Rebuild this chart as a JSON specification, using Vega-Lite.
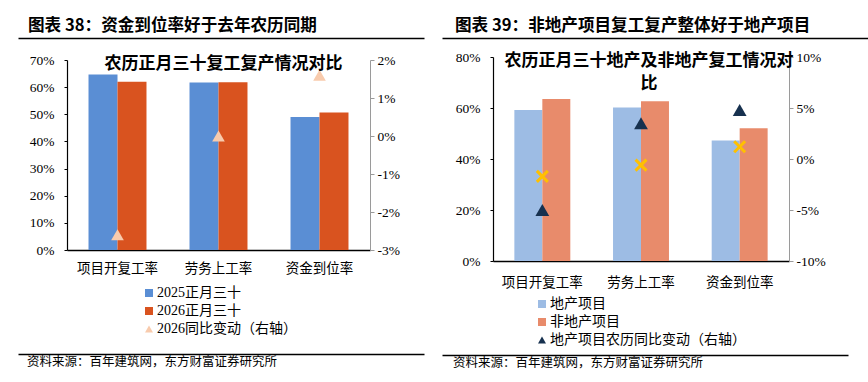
{
  "$schema": "https://vega.github.io/schema/vega-lite/v6.json",
  "background": "white",
  "padding": {"left": 18, "top": 18, "right": 0, "bottom": 0},
  "spacing": 18,
  "resolve": {"scale": {"x": "independent", "xOffset": "independent", "y": "independent", "color": "independent", "shape": "independent"}, "legend": {"color": "independent", "shape": "independent"}},
  "config": {
    "view": {"stroke": null},
    "axis": {"labelColor": "black", "grid": false, "title": null},
    "title": {"font": "Noto Sans CJK SC", "color": "black"}
  },
  "hconcat": [
    {
      "spacing": 0,
      "resolve": {"scale": {"x": "independent", "y": "independent"}},
      "vconcat": [
        {
          "width": 357, "height": 15,
          "data": {"values": [{"v": 0}]},
          "mark": {"type": "point", "opacity": 0},
          "encoding": {"x": {"field": "v", "type": "quantitative", "scale": {"domain": [0, 1], "range": [0, 406]}, "axis": {"orient": "top", "position": -49, "labels": false, "ticks": false, "domainColor": "black", "domainWidth": 1.5}}},
          "title": {"text": "图表 38：资金到位率好于去年农历同期", "anchor": "start", "frame": "group", "dx": -39, "fontSize": 16.6, "fontWeight": "bold", "offset": 3}
        },
        {
          "width": 303, "height": 190,
          "title": {"text": "农历正月三十复工复产情况对比", "anchor": "middle", "dx": 5, "fontSize": 17, "fontWeight": "bold", "offset": -20},
          "resolve": {"scale": {"y": "independent"}},
          "layer": [
            {
              "data": {"values": [
                {"cat": "项目开复工率", "series": "2025正月三十", "value": 0.647},
                {"cat": "项目开复工率", "series": "2026正月三十", "value": 0.620},
                {"cat": "劳务上工率", "series": "2025正月三十", "value": 0.617},
                {"cat": "劳务上工率", "series": "2026正月三十", "value": 0.618},
                {"cat": "资金到位率", "series": "2025正月三十", "value": 0.490},
                {"cat": "资金到位率", "series": "2026正月三十", "value": 0.507}
              ]},
              "mark": {"type": "bar"},
              "encoding": {
                "x": {"field": "cat", "type": "nominal", "sort": ["项目开复工率", "劳务上工率", "资金到位率"], "scale": {"paddingInner": 0.426, "paddingOuter": 0.213},
                  "axis": {"labelAngle": 0, "ticks": false, "domainColor": "black", "domainWidth": 1.5, "labelFont": "Noto Sans CJK SC", "labelFontSize": 13.5, "labelPadding": 11}},
                "xOffset": {"field": "series", "type": "nominal", "sort": ["2025正月三十", "2026正月三十"]},
                "y": {"field": "value", "type": "quantitative", "scale": {"domain": [0, 0.7]},
                  "axis": {"values": [0, 0.1, 0.2, 0.3, 0.4, 0.5, 0.6, 0.7], "format": ".0%", "domainColor": "black", "domainWidth": 1.2, "tickColor": "black", "tickSize": 3, "labelPadding": 10, "labelFont": "Liberation Serif", "labelFontSize": 13.5, "minExtent": 49}},
                "color": {"field": "series", "type": "nominal",
                  "scale": {"domain": ["2025正月三十", "2026正月三十", "2026同比变动（右轴）"], "range": ["#5A8ED4", "#D9531F", "#F8CBAD"]},
                  "legend": {"orient": "none", "legendX": 75, "legendY": 248, "title": null, "labelFont": "Liberation Serif, Noto Sans CJK SC", "labelFontSize": 14, "symbolSize": 64, "rowPadding": 4, "labelOffset": 1, "labelColor": "black", "labelLimit": 300}}
              }
            },
            {
              "data": {"values": [
                {"cat": "项目开复工率", "series": "2026同比变动（右轴）", "change": -0.026},
                {"cat": "劳务上工率", "series": "2026同比变动（右轴）", "change": 0.0},
                {"cat": "资金到位率", "series": "2026同比变动（右轴）", "change": 0.016}
              ]},
              "mark": {"type": "point", "filled": true, "opacity": 1, "size": 160},
              "encoding": {
                "x": {"field": "cat", "type": "nominal", "sort": ["项目开复工率", "劳务上工率", "资金到位率"]},
                "y": {"field": "change", "type": "quantitative", "scale": {"domain": [-0.03, 0.02]},
                  "axis": {"orient": "right", "values": [-0.03, -0.02, -0.01, 0, 0.01, 0.02], "labelExpr": "replace(format(datum.value, '.0%'), '\u2212', '-')", "domainColor": "#9a9a9a", "tickColor": "#9a9a9a", "tickSize": 4, "labelPadding": 3, "labelFont": "Liberation Serif", "labelFontSize": 13.5}},
                "color": {"field": "series", "type": "nominal",
                  "scale": {"domain": ["2025正月三十", "2026正月三十", "2026同比变动（右轴）"], "range": ["#5A8ED4", "#D9531F", "#F8CBAD"]},
                  "legend": {"orient": "none", "legendX": 75, "legendY": 248, "title": null, "labelFont": "Liberation Serif, Noto Sans CJK SC", "labelFontSize": 14, "symbolSize": 64, "rowPadding": 4, "labelOffset": 1, "labelColor": "black", "labelLimit": 300}},
                "shape": {"field": "series", "type": "nominal",
                  "scale": {"domain": ["2025正月三十", "2026正月三十", "2026同比变动（右轴）"], "range": ["square", "square", "triangle-up"]},
                  "legend": {"orient": "none", "legendX": 75, "legendY": 248, "title": null, "labelFont": "Liberation Serif, Noto Sans CJK SC", "labelFontSize": 14, "symbolSize": 64, "rowPadding": 4, "labelOffset": 1, "labelColor": "black", "labelLimit": 300}}
              }
            }
          ]
        },
        {
          "width": 357, "height": 79,
          "data": {"values": [{"v": 0}]},
          "mark": {"type": "point", "opacity": 0},
          "encoding": {"x": {"field": "v", "type": "quantitative", "scale": {"domain": [0, 1], "range": [0, 406]}, "axis": {"orient": "bottom", "position": -49, "labels": false, "ticks": false, "domainColor": "black", "domainWidth": 1.5}}},
          "title": {"text": "资料来源：百年建筑网，东方财富证券研究所", "orient": "bottom", "anchor": "start", "frame": "group", "dx": -40, "fontSize": 12.5, "fontWeight": "normal", "offset": 2}
        }
      ]
    },
    {
      "spacing": 0,
      "resolve": {"scale": {"x": "independent", "y": "independent"}},
      "vconcat": [
        {
          "width": 375, "height": 12,
          "data": {"values": [{"v": 0}]},
          "mark": {"type": "point", "opacity": 0},
          "encoding": {"x": {"field": "v", "type": "quantitative", "scale": {"domain": [0, 1], "range": [0, 426]}, "axis": {"orient": "top", "position": -51, "labels": false, "ticks": false, "domainColor": "black", "domainWidth": 1.5}}},
          "title": {"text": "图表 39：非地产项目复工复产整体好于地产项目", "anchor": "start", "frame": "group", "dx": -38, "fontSize": 16.6, "fontWeight": "bold", "offset": 3}
        },
        {
          "width": 296, "height": 204,
          "title": {"text": ["农历正月三十地产及非地产复工情况对", "比"], "anchor": "middle", "dx": 8, "fontSize": 17, "fontWeight": "bold", "offset": -43, "lineHeight": 23},
          "resolve": {"scale": {"y": "independent"}},
          "layer": [
            {
              "data": {"values": [
                {"cat": "项目开复工率", "series": "地产项目", "value": 0.592},
                {"cat": "项目开复工率", "series": "非地产项目", "value": 0.635},
                {"cat": "劳务上工率", "series": "地产项目", "value": 0.602},
                {"cat": "劳务上工率", "series": "非地产项目", "value": 0.626},
                {"cat": "资金到位率", "series": "地产项目", "value": 0.473},
                {"cat": "资金到位率", "series": "非地产项目", "value": 0.521}
              ]},
              "mark": {"type": "bar"},
              "encoding": {
                "x": {"field": "cat", "type": "nominal", "sort": ["项目开复工率", "劳务上工率", "资金到位率"], "scale": {"paddingInner": 0.433, "paddingOuter": 0.2165},
                  "axis": {"labelAngle": 0, "ticks": false, "domainColor": "black", "domainWidth": 1.5, "labelFont": "Noto Sans CJK SC", "labelFontSize": 13.5, "labelPadding": 14}},
                "xOffset": {"field": "series", "type": "nominal", "sort": ["地产项目", "非地产项目"]},
                "y": {"field": "value", "type": "quantitative", "scale": {"domain": [0, 0.8]},
                  "axis": {"values": [0, 0.2, 0.4, 0.6, 0.8], "format": ".0%", "domainColor": "black", "domainWidth": 1.2, "tickColor": "black", "tickSize": 3, "labelPadding": 10, "labelFont": "Liberation Serif", "labelFontSize": 13.5, "minExtent": 51}},
                "color": {"field": "series", "type": "nominal",
                  "scale": {"domain": ["地产项目", "非地产项目", "地产项目农历同比变动（右轴）"], "range": ["#9DBCE4", "#E88B6B", "#17314F"]},
                  "legend": {"orient": "none", "legendX": 42, "legendY": 259, "title": null, "labelFont": "Noto Sans CJK SC", "labelFontSize": 14, "symbolSize": 64, "rowPadding": 4, "labelOffset": 1, "labelColor": "black", "labelLimit": 300}}
              }
            },
            {
              "data": {"values": [
                {"cat": "项目开复工率", "series": "地产项目农历同比变动（右轴）", "change": -0.05},
                {"cat": "劳务上工率", "series": "地产项目农历同比变动（右轴）", "change": 0.035},
                {"cat": "资金到位率", "series": "地产项目农历同比变动（右轴）", "change": 0.048}
              ]},
              "mark": {"type": "point", "filled": true, "opacity": 1, "size": 190},
              "encoding": {
                "x": {"field": "cat", "type": "nominal", "sort": ["项目开复工率", "劳务上工率", "资金到位率"]},
                "y": {"field": "change", "type": "quantitative", "scale": {"domain": [-0.1, 0.1]},
                  "axis": {"orient": "right", "values": [-0.1, -0.05, 0, 0.05, 0.1], "labelExpr": "replace(format(datum.value, '.0%'), '\u2212', '-')", "domainColor": "#9a9a9a", "tickColor": "#9a9a9a", "tickSize": 4, "labelPadding": 3, "labelFont": "Liberation Serif", "labelFontSize": 13.5}},
                "color": {"field": "series", "type": "nominal",
                  "scale": {"domain": ["地产项目", "非地产项目", "地产项目农历同比变动（右轴）"], "range": ["#9DBCE4", "#E88B6B", "#17314F"]},
                  "legend": {"orient": "none", "legendX": 42, "legendY": 259, "title": null, "labelFont": "Noto Sans CJK SC", "labelFontSize": 14, "symbolSize": 64, "rowPadding": 4, "labelOffset": 1, "labelColor": "black", "labelLimit": 300}},
                "shape": {"field": "series", "type": "nominal",
                  "scale": {"domain": ["地产项目", "非地产项目", "地产项目农历同比变动（右轴）"], "range": ["square", "square", "triangle-up"]},
                  "legend": {"orient": "none", "legendX": 42, "legendY": 259, "title": null, "labelFont": "Noto Sans CJK SC", "labelFontSize": 14, "symbolSize": 64, "rowPadding": 4, "labelOffset": 1, "labelColor": "black", "labelLimit": 300}}
              }
            },
            {
              "data": {"values": [
                {"cat": "项目开复工率", "change2": -0.017},
                {"cat": "劳务上工率", "change2": -0.006},
                {"cat": "资金到位率", "change2": 0.012}
              ]},
              "mark": {"type": "point", "shape": "M-1,-1L1,1M-1,1L1,-1", "filled": false, "opacity": 1, "size": 120, "stroke": "#FFC000", "strokeWidth": 3},
              "encoding": {
                "x": {"field": "cat", "type": "nominal", "sort": ["项目开复工率", "劳务上工率", "资金到位率"]},
                "y": {"field": "change2", "type": "quantitative", "scale": {"domain": [-0.1, 0.1]}, "axis": null}
              }
            }
          ]
        },
        {
          "width": 355, "height": 66,
          "data": {"values": [{"v": 0}]},
          "mark": {"type": "point", "opacity": 0},
          "encoding": {"x": {"field": "v", "type": "quantitative", "scale": {"domain": [0, 1], "range": [0, 406]}, "axis": {"orient": "bottom", "position": -51, "labels": false, "ticks": false, "domainColor": "black", "domainWidth": 1.5}}},
          "title": {"text": "资料来源：百年建筑网，东方财富证券研究所", "orient": "bottom", "anchor": "start", "frame": "group", "dx": -40, "fontSize": 12.5, "fontWeight": "normal", "offset": 2}
        }
      ]
    }
  ]
}
